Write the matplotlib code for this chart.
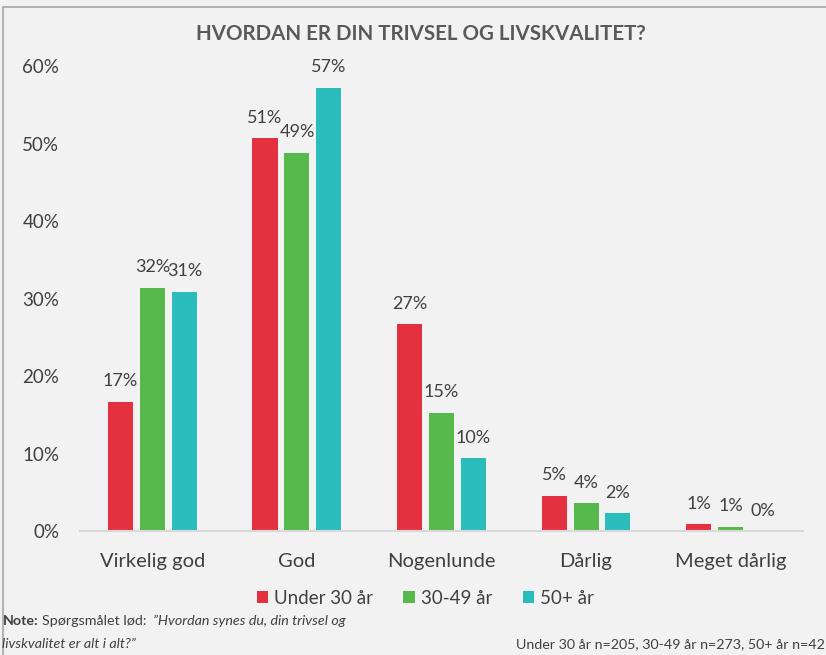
import matplotlib.pyplot as plt
import numpy as np
from matplotlib.patches import Rectangle

plt.rcParams['font.family'] = ['Lato', 'DejaVu Sans']

categories = ["Virkelig god", "God", "Nogenlunde", "Dårlig", "Meget dårlig"]
series = ["Under 30 år", "30-49 år", "50+ år"]
under30 = [16.7, 50.7, 26.7, 4.6, 0.9]
age30_49 = [31.4, 48.8, 15.3, 3.6, 0.6]
age50 = [30.9, 57.2, 9.4, 2.3, 0.0]
labels_under30 = ["17%", "51%", "27%", "5%", "1%"]
labels_30_49 = ["32%", "49%", "15%", "4%", "1%"]
labels_50 = ["31%", "57%", "10%", "2%", "0%"]
yticks = [0, 10, 20, 30, 40, 50, 60]

colors = ["#E4313F", "#57B94B", "#2BBDBC"]
bg = "#F2F2F2"
txt = "#404040"

fig = plt.figure(figsize=(8.26, 6.55), dpi=100, facecolor=bg)
ax = fig.add_axes([0.097, 0.189, 0.875, 0.710])
ax.set_facecolor(bg)

x = np.arange(len(categories))
w = 0.173
step = 0.221
values = [under30, age30_49, age50]
labels = [labels_under30, labels_30_49, labels_50]
for i, (vals, labs) in enumerate(zip(values, labels)):
    pos = x + (i - 1) * step
    bars = ax.bar(pos, vals, width=w, color=colors[i], label=series[i])
    for b, lab in zip(bars, labs):
        ax.annotate(lab, (b.get_x() + b.get_width() / 2, b.get_height()),
                    xytext=(0, 9), textcoords="offset points",
                    ha="center", va="bottom", fontsize=13, color=txt)

ax.set_xlim(-0.5, len(categories) - 0.5)
ax.set_ylim(0, 60)
ax.set_yticks(yticks)
ax.set_yticklabels([f"{t}%" for t in yticks], fontsize=13.5, color=txt)
ax.set_xticks(x)
ax.set_xticklabels(categories, fontsize=14.5, color=txt)
ax.tick_params(axis="y", length=0, pad=15)
ax.tick_params(axis="x", length=0, pad=16)
for s in ["top", "right", "left"]:
    ax.spines[s].set_visible(False)
ax.spines["bottom"].set_color("#D9D9D9")
ax.spines["bottom"].set_linewidth(1.5)

fig.text(0.51, 0.948, "HVORDAN ER DIN TRIVSEL OG LIVSKVALITET?", ha="center",
         va="center", fontsize=14.8, fontweight="bold", color="#595959")

leg = fig.legend(loc="center", bbox_to_anchor=(0.515, 0.087), ncol=3, frameon=False,
                 fontsize=13.5, handlelength=0.6, handleheight=0.6, handletextpad=0.35,
                 columnspacing=1.6)
for t in leg.get_texts():
    t.set_color(txt)

# note line built from pieces placed one after another
fig.canvas.draw()
renderer = fig.canvas.get_renderer()
y1 = 0.052
t1 = fig.text(0.003, y1, "Note:", fontsize=10.3, fontweight="bold", color=txt, va="center")
x_next = fig.transFigure.inverted().transform(
    (t1.get_window_extent(renderer).x1 + 4, 0))[0]
t2 = fig.text(x_next, y1, "Spørgsmålet lød: ", fontsize=10.3, color=txt, va="center")
x_next = fig.transFigure.inverted().transform(
    (t2.get_window_extent(renderer).x1 + 3, 0))[0]
fig.text(x_next, y1, "\u201dHvordan synes du, din trivsel og", fontsize=10.3,
         style="italic", color=txt, va="center")
fig.text(0.003, 0.017, "livskvalitet er alt i alt?\u201d", fontsize=10.3,
         style="italic", color=txt, va="center")
fig.text(0.999, 0.017, "Under 30 år n=205, 30-49 år n=273, 50+ år n=42", fontsize=10.3,
         color=txt, va="center", ha="right")

fig.patches.append(Rectangle((0.004, -0.01), 1.1, 1.0, transform=fig.transFigure,
                             fill=False, edgecolor="#A6A6A6", linewidth=1.2))

fig.savefig("out.png", dpi=100, facecolor=bg)
